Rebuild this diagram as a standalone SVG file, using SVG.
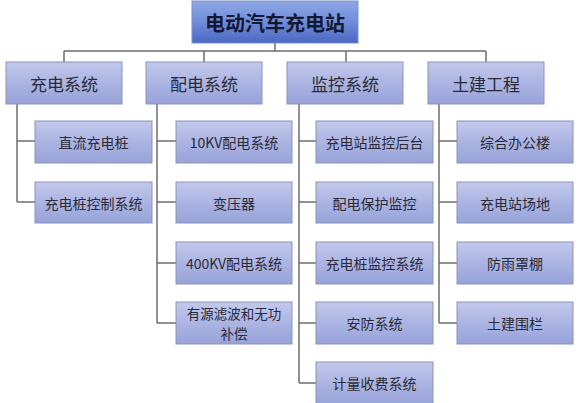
<svg xmlns="http://www.w3.org/2000/svg" width="588" height="403" viewBox="0 0 588 403">
<defs>
<linearGradient id="gRoot" x1="0" y1="0" x2="0" y2="1">
<stop offset="0" stop-color="#8ea8e6"/>
<stop offset="0.5" stop-color="#6f8cd8"/>
<stop offset="1" stop-color="#4a68c4"/>
</linearGradient>
<linearGradient id="gBox" x1="0" y1="0" x2="0" y2="1">
<stop offset="0" stop-color="#c3c9ec"/>
<stop offset="0.5" stop-color="#abb4e2"/>
<stop offset="1" stop-color="#97a3d8"/>
</linearGradient>
</defs>
<style>
.root{fill:url(#gRoot);stroke:#7a8fc8;stroke-width:1}
.box{fill:url(#gBox);stroke:#8c94b8;stroke-width:1}
.t1{font-family:"Noto Sans CJK SC","Liberation Sans",sans-serif;font-size:17px;fill:#2a2a38;text-anchor:middle;dominant-baseline:central}
.t2{font-family:"Noto Sans CJK SC","Liberation Sans",sans-serif;font-size:14px;fill:#2a2a38;text-anchor:middle;dominant-baseline:central}
.t3{font-family:"Noto Sans CJK SC","Liberation Sans",sans-serif;font-size:13.5px;fill:#2a2a38;text-anchor:middle;dominant-baseline:central}
.tr{font-family:"Noto Sans CJK SC","Liberation Sans",sans-serif;font-size:20px;font-weight:bold;fill:#141830;text-anchor:middle;dominant-baseline:central}
.ln{fill:none;stroke:#6e6e6e;stroke-width:1.5}
</style>
<rect width="588" height="403" fill="#ffffff"/>
<g id="connectors">
<path class="ln" d="M275,43 V51 M64,51 H486 M64,51 V62 M204,51 V62 M346,51 V62 M486,51 V62"/>
<path class="ln" d="M17,104 V202 M17,141 H35 M17,202 H35"/>
<path class="ln" d="M157,104 V323 M157,141 H176 M157,202 H176 M157,263 H176 M157,323 H176"/>
<path class="ln" d="M299,104 V383 M299,141 H316 M299,202 H316 M299,263 H316 M299,323 H316 M299,383 H316"/>
<path class="ln" d="M439,104 V323 M439,141 H457 M439,202 H457 M439,263 H457 M439,323 H457"/>
</g>
<g id="root"><rect class="root" x="192" y="1" width="166" height="42"/><text class="tr" x="275" y="22">电动汽车充电站</text></g>
<g id="n-charge"><rect class="box" x="6" y="62" width="116" height="42"/><text class="t1" x="64" y="83">充电系统</text></g>
<g id="n-dist"><rect class="box" x="146" y="62" width="116" height="42"/><text class="t1" x="204" y="83">配电系统</text></g>
<g id="n-mon"><rect class="box" x="287" y="62" width="116" height="42"/><text class="t1" x="345" y="83">监控系统</text></g>
<g id="n-civil"><rect class="box" x="428" y="62" width="116" height="42"/><text class="t1" x="486" y="83">土建工程</text></g>

<g id="c1"><rect class="box" x="35" y="121" width="117" height="42"/><text class="t2" x="93.5" y="142">直流充电桩</text></g>
<g id="c2"><rect class="box" x="35" y="182" width="117" height="41"/><text class="t2" x="93.5" y="202.5">充电桩控制系统</text></g>

<g id="d1"><rect class="box" x="176" y="121" width="116" height="42"/><text class="t2" x="234" y="142">10KV配电系统</text></g>
<g id="d2"><rect class="box" x="176" y="182" width="116" height="41"/><text class="t2" x="234" y="202.5">变压器</text></g>
<g id="d3"><rect class="box" x="176" y="242" width="116" height="42"/><text class="t2" x="234" y="263">400KV配电系统</text></g>
<g id="d4"><rect class="box" x="176" y="302" width="116" height="42"/><text class="t3" x="234" y="313.2">有源滤波和无功</text><text class="t3" x="234" y="332.8">补偿</text></g>

<g id="m1"><rect class="box" x="316" y="121" width="117" height="42"/><text class="t2" x="374.5" y="142">充电站监控后台</text></g>
<g id="m2"><rect class="box" x="316" y="182" width="117" height="41"/><text class="t2" x="374.5" y="202.5">配电保护监控</text></g>
<g id="m3"><rect class="box" x="316" y="242" width="117" height="42"/><text class="t2" x="374.5" y="263">充电桩监控系统</text></g>
<g id="m4"><rect class="box" x="316" y="302" width="117" height="42"/><text class="t2" x="374.5" y="323">安防系统</text></g>
<g id="m5"><rect class="box" x="316" y="362" width="117" height="43"/><text class="t2" x="374.5" y="383">计量收费系统</text></g>

<g id="s1"><rect class="box" x="457" y="121" width="116" height="42"/><text class="t2" x="515" y="142">综合办公楼</text></g>
<g id="s2"><rect class="box" x="457" y="182" width="116" height="41"/><text class="t2" x="515" y="202.5">充电站场地</text></g>
<g id="s3"><rect class="box" x="457" y="242" width="116" height="42"/><text class="t2" x="515" y="263">防雨罩棚</text></g>
<g id="s4"><rect class="box" x="457" y="302" width="116" height="42"/><text class="t2" x="515" y="323">土建围栏</text></g>
</svg>
